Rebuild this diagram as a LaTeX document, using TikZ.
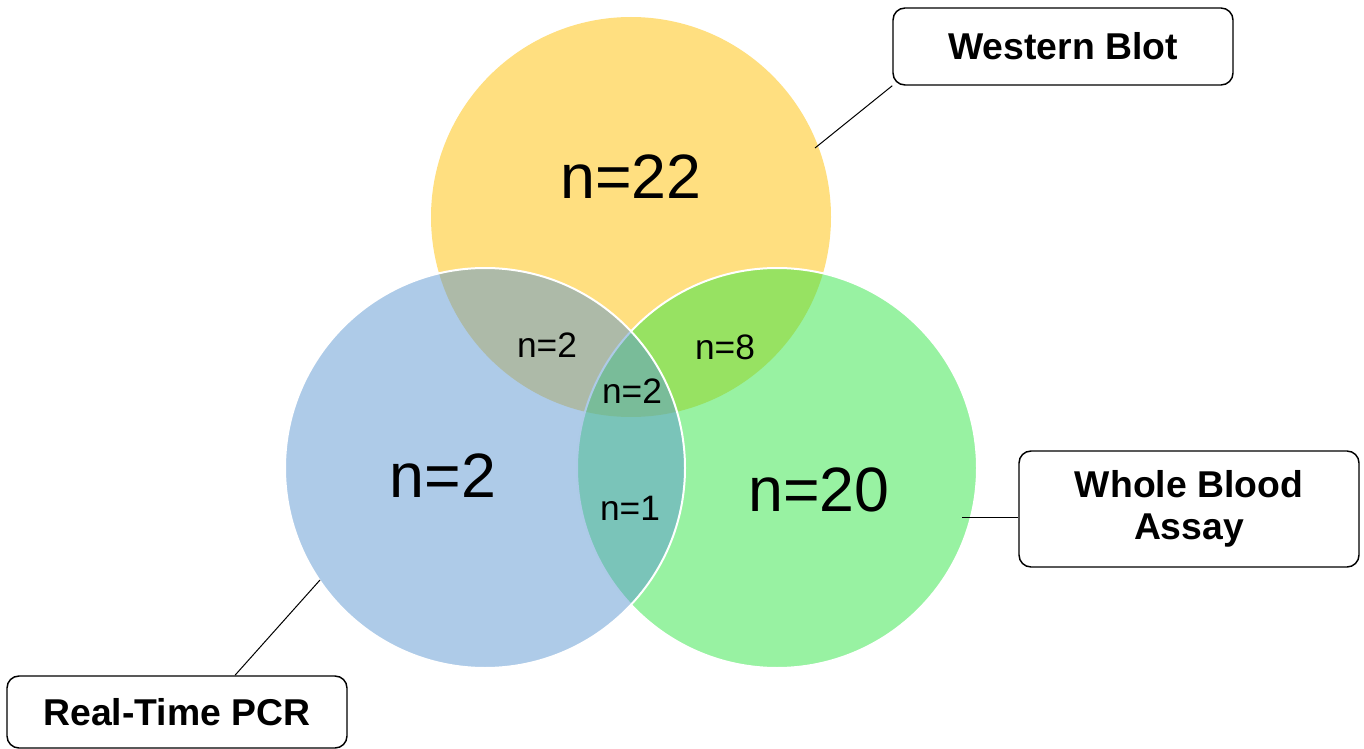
\documentclass[tikz,border=0pt]{standalone}
\usepackage{fontspec}
\setmainfont{Liberation Sans}
\definecolor{wbyellow}{RGB}{255,223,128}
\definecolor{wbgreen}{RGB}{49,229,69}
\definecolor{wbblue}{RGB}{93,151,209}
\begin{document}
\begin{tikzpicture}[x=0.75pt,y=-0.75pt,
  setcircle/.style={draw=white,line width=1.5pt,fill opacity=0.5},
  bignum/.style={inner sep=0pt,font=\fontsize{47}{50}\selectfont},
  smallnum/.style={inner sep=0pt,font=\fontsize{26.5}{30}\selectfont},
  labelbox/.style={draw=black,line width=1.1pt,rounded corners=9pt,fill=white,
    minimum width=255pt,align=center,inner sep=0pt,
    font=\fontsize{28}{31}\selectfont\bfseries},
  leader/.style={draw=black,line width=0.75pt}]
\useasboundingbox (0,0) rectangle (1364,749);
% circles
\fill[wbyellow] (631,217) circle[radius=200];
\path[setcircle,fill=wbgreen] (777,468) circle[radius=200];
\path[setcircle,fill=wbblue] (485,468) circle[radius=200];
% numbers
\node[bignum] (n22) at (631,177) {n=22};
\node[bignum] (n2big) at (443,476) {n=2};
\node[bignum] (n20) at (819,490) {n=20};
\node[smallnum] (n2a) at (547,345) {n=2};
\node[smallnum] (n8) at (725,347) {n=8};
\node[smallnum] (n2c) at (632,391) {n=2};
\node[smallnum] (n1) at (630,508) {n=1};
% label boxes
\node[labelbox,minimum height=57.75pt] (wb) at (1063,46.5) {Western Blot};
\node[labelbox,minimum height=87pt] (wba) at (1189,509) {\raisebox{-3pt}{Whole Blood}\\\raisebox{-3pt}{Assay}};
\node[labelbox,minimum height=54pt] (rt) at (177,712) {Real-Time PCR};
% leaders
\coordinate (wbend) at (815,148);
\coordinate (wbaend) at (962,517);
\coordinate (rtend) at (320,580);
\coordinate (rtfoot) at (235,676);
\draw[leader] (wb.south west) -- (wbend);
\draw[leader] (wbaend) -- (wbaend -| wba.west);
\draw[leader] (rtfoot |- rt.north) -- (rtend);
\end{tikzpicture}
\end{document}
